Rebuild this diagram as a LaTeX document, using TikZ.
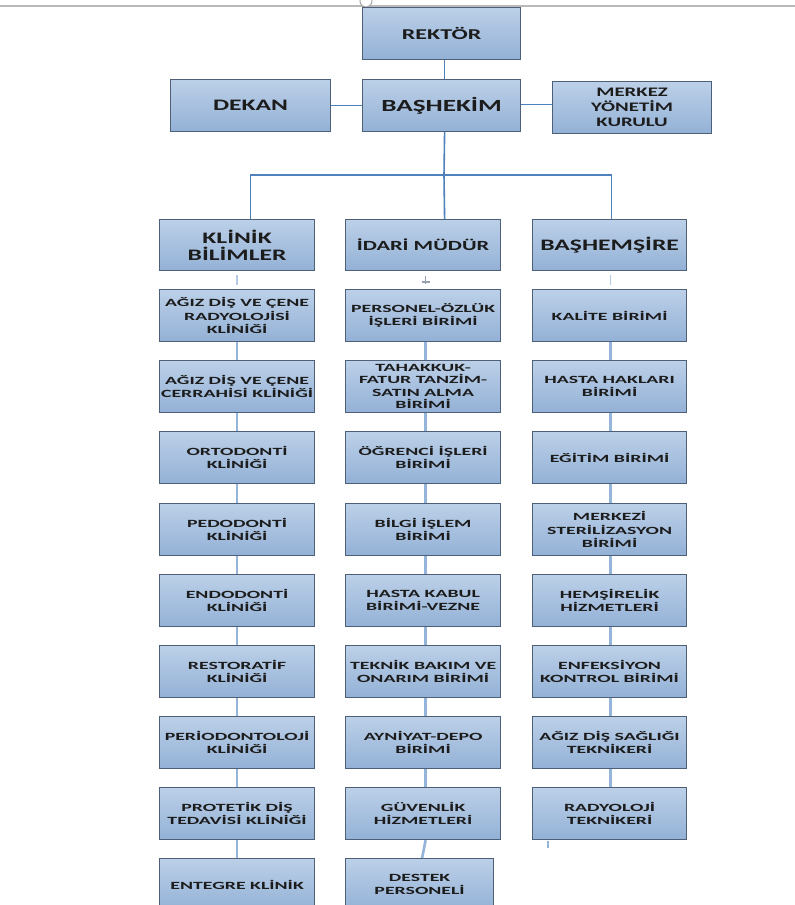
\documentclass[tikz,border=0pt]{standalone}
\usepackage{fontspec}
\setmainfont{Carlito}
\newfontfamily\wfont[FakeStretch=1.6]{Carlito}
\newfontfamily\nfont[FakeStretch=1.8]{Carlito}
\definecolor{boxtop}{HTML}{BCD0E8}
\definecolor{boxbot}{HTML}{93B1D6}
\definecolor{boxline}{HTML}{4E6078}
\definecolor{topline}{HTML}{4F81BD}
\definecolor{colline}{HTML}{94B4DA}
\definecolor{txt}{HTML}{1C1C1C}
\tikzset{
  box/.style={draw=boxline, line width=1.2pt, top color=boxtop, bottom color=boxbot,
    inner sep=0pt, align=center, anchor=north west, text=txt,
    minimum height=52pt, font=\nfont\bfseries\fontsize{11}{13.5}\selectfont},
  lw/.style={minimum width=155pt},
  mw/.style={minimum width=155pt},
  rw/.style={minimum width=154pt},
  topbox/.style={box, minimum width=158pt, font=\wfont\bfseries\fontsize{#1}{#1}\selectfont},
  midbox/.style={box, minimum height=51pt, font=\wfont\bfseries\fontsize{#1}{17}\selectfont},
  tline/.style={draw=topline, line width=1.6pt},
  cline/.style={draw=colline, line width=2.6pt},
  fline/.style={draw=colline!70, line width=1.6pt}
}
\begin{document}
\begin{tikzpicture}[x=1pt,y=-1pt]
\useasboundingbox (0,0) rectangle (795,905);
\clip (0,0) rectangle (795,905);
\fill[white] (0,0) rectangle (795,905);
% top ruler line
\coordinate (gl) at (0,6);
\coordinate (gr) at (795,6);
\draw[gray!55, line width=1.5pt] (gl) -- (gr);
\draw[gray!70, fill=white, line width=1pt] (366,1) circle (6);

% level 1
\node[topbox=15] (rek) at (362,7) {REKTÖR};
\node[topbox=17] (bas) at (362,79) {BAŞHEKİM};
\node[topbox=16, minimum width=160pt] (dek) at (170,79) {DEKAN};
\node[topbox=13, minimum width=159pt, font=\wfont\bfseries\fontsize{13}{15}\selectfont] (mer) at (552,81) {MERKEZ\\YÖNETİM\\KURULU};

% level 2
\node[midbox=16, lw] (kl) at (159,219) {KLİNİK\\BİLİMLER};
\node[midbox=14, mw] (id) at (345,219) {İDARİ MÜDÜR};
\node[midbox=16, rw] (bs) at (532,219) {BAŞHEMŞİRE};

% top connectors
\draw[tline] ([xshift=3pt]bas.north) -- ([xshift=3pt]rek.south);
\draw[tline] (dek.east) -- (bas.west);
\draw[tline] ([yshift=1pt]bas.east) -- ([yshift=1pt]bas.east -| mer.west);
\coordinate (bar) at (444,175);
\draw[tline] ([xshift=3pt]bas.south) -- (bar);
\draw[tline] ([xshift=13.5pt]kl.north) |- (bar) -| ([xshift=2pt]bs.north);
\draw[tline] (bar) -- ([xshift=21.5pt]id.north);

% left column
\node[box, lw] (a1) at (159,289) {AĞIZ DİŞ VE ÇENE\\RADYOLOJİSİ\\KLİNİĞİ};
\node[box, lw] (a2) at (159,360) {AĞIZ DİŞ VE ÇENE\\CERRAHİSİ KLİNİĞİ};
\node[box, lw] (a3) at (159,431) {ORTODONTİ\\KLİNİĞİ};
\node[box, lw] (a4) at (159,503) {PEDODONTİ\\KLİNİĞİ};
\node[box, lw] (a5) at (159,574) {ENDODONTİ\\KLİNİĞİ};
\node[box, lw] (a6) at (159,645) {RESTORATİF\\KLİNİĞİ};
\node[box, lw] (a7) at (159,716) {PERİODONTOLOJİ\\KLİNİĞİ};
\node[box, lw] (a8) at (159,787) {PROTETİK DİŞ\\TEDAVİSİ KLİNİĞİ};
\node[box, lw] (a9) at (159,858) {ENTEGRE KLİNİK};

% middle column
\node[box, mw] (m1) at (345,289) {PERSONEL-ÖZLÜK\\İŞLERİ BİRİMİ};
\node[box, mw, font=\nfont\bfseries\fontsize{11}{12.5}\selectfont] (m2) at (345,360) {TAHAKKUK-\\FATUR TANZİM-\\SATIN ALMA\\BİRİMİ};
\node[box, mw] (m3) at (345,431) {ÖĞRENCİ İŞLERİ\\BİRİMİ};
\node[box, mw] (m4) at (345,503) {BİLGİ İŞLEM\\BİRİMİ};
\node[box, mw] (m5) at (345,574) {HASTA KABUL\\BİRİMİ-VEZNE};
\node[box, mw] (m6) at (345,645) {TEKNİK BAKIM VE\\ONARIM BİRİMİ};
\node[box, mw] (m7) at (345,716) {AYNİYAT-DEPO\\BİRİMİ};
\node[box, mw] (m8) at (345,787) {GÜVENLİK\\HİZMETLERİ};
\node[box, minimum width=148pt] (m9) at (345,858) {DESTEK\\PERSONELİ};

% right column
\node[box, rw] (r1) at (532,289) {KALİTE BİRİMİ};
\node[box, rw] (r2) at (532,360) {HASTA HAKLARI\\BİRİMİ};
\node[box, rw] (r3) at (532,431) {EĞİTİM BİRİMİ};
\node[box, rw] (r4) at (532,503) {MERKEZİ\\STERİLİZASYON\\BİRİMİ};
\node[box, rw] (r5) at (532,574) {HEMŞİRELİK\\HİZMETLERİ};
\node[box, rw] (r6) at (532,645) {ENFEKSİYON\\KONTROL BİRİMİ};
\node[box, rw] (r7) at (532,716) {AĞIZ DİŞ SAĞLIĞI\\TEKNİKERİ};
\node[box, rw] (r8) at (532,787) {RADYOLOJİ\\TEKNİKERİ};

% faint links level 2 -> row 1
\draw[fline] ([yshift=-4pt]kl.south) -- ([yshift=4pt]a1.north);
\draw[fline, draw=boxline!60, line width=1.2pt] ([xshift=2.5pt,yshift=-5pt]id.south) -- ([xshift=2.5pt,yshift=5pt]m1.north);
\draw[fline, draw=boxline!60, line width=1.2pt] ([xshift=-1.5pt,yshift=7pt]m1.north) -- ([xshift=6.5pt,yshift=7pt]m1.north);
\draw[fline] ([xshift=1pt,yshift=-4pt]bs.south) -- ([xshift=1pt,yshift=4pt]r1.north);

% column connectors
\foreach \i/\j in {1/2,2/3,3/4,4/5,5/6,6/7,7/8,8/9}{
  \draw[cline] (a\i.south) -- (a\j.north);
  \draw[cline] ([xshift=2.5pt]m\i.south) -- ([xshift=2.5pt]m\j.north);
}
\foreach \i/\j in {1/2,2/3,3/4,4/5,5/6,6/7,7/8}{
  \draw[cline] ([xshift=1pt]r\i.south) -- ([xshift=1pt]r\j.north);
}
% small stray tick under RADYOLOJI TEKNIKERI
\draw[draw=colline, line width=1.2pt] ([xshift=16pt,yshift=-1pt]r8.south west) -- ([xshift=16pt,yshift=-8pt]r8.south west);
\end{tikzpicture}
\end{document}
